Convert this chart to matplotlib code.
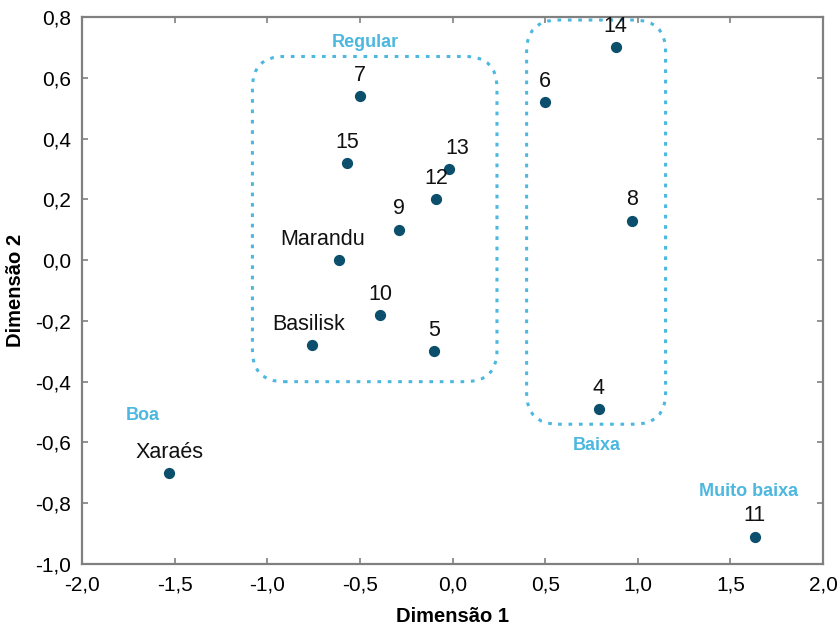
import matplotlib
matplotlib.use('Agg')
import matplotlib.pyplot as plt
from matplotlib.patches import FancyBboxPatch
from matplotlib.ticker import FuncFormatter, MultipleLocator

plt.rcParams['font.family'] = ['Liberation Sans', 'DejaVu Sans']

# Coordinates of each genotype on the two dimensions
names = ['7', '15', '13', '12', '9', 'Marandu', '10', 'Basilisk', '5',
         '6', '14', '8', '4', 'Xaraés', '11']
dim1 = [-0.50, -0.57, -0.02, -0.09, -0.29, -0.61, -0.39, -0.76, -0.10,
        0.50, 0.88, 0.97, 0.79, -1.53, 1.63]
dim2 = [0.54, 0.32, 0.30, 0.20, 0.10, 0.00, -0.18, -0.28, -0.30,
        0.52, 0.70, 0.13, -0.49, -0.70, -0.91]

# Groups: name, box (x0, y0, x1, y1) or None, label position
groups = ['Regular', 'Baixa', 'Boa', 'Muito baixa']
group_boxes = [(-1.08, -0.40, 0.24, 0.67), (0.40, -0.54, 1.15, 0.79), None, None]
group_label_xy = [(-0.47, 0.715), (0.78, -0.61), (-1.67, -0.51), (1.60, -0.76)]

point_color = '#0b4f6c'
group_color = '#4cb8df'

# label offsets (points) relative to each marker
offsets = {'Marandu': (-12, 11), '13': (6, 11), 'Basilisk': (-2, 11)}

fig = plt.figure(figsize=(8.39, 6.34), dpi=100)
ax = fig.add_axes([0.0977, 0.1104, 0.8833, 0.8628])

ax.scatter(dim1, dim2, s=50, color=point_color, zorder=3)
for n, x, y in zip(names, dim1, dim2):
    ax.annotate(n, (x, y), xytext=offsets.get(n, (0, 11)), textcoords='offset points',
                ha='center', va='baseline', fontsize=15.5, color='#111111')

# dotted rounded boxes; mutation_aspect keeps the corners round on screen
asp = (1.8 / 547) / (4.0 / 741)
for box in group_boxes:
    if box is None:
        continue
    x0, y0, x1, y1 = box
    p = FancyBboxPatch((x0, y0), x1 - x0, y1 - y0,
                       boxstyle='round,pad=0,rounding_size=0.17',
                       mutation_aspect=asp, fill=False, edgecolor=group_color,
                       linewidth=2.2, linestyle=(0, (1.2, 2.2)), clip_on=False, zorder=2)
    ax.add_patch(p)

for g, (x, y) in zip(groups, group_label_xy):
    ax.text(x, y, g, ha='center', va='center', fontsize=13, fontweight='bold', color=group_color)

ax.set_xlim(-2.0, 2.0)
ax.set_ylim(-1.0, 0.8)
ax.xaxis.set_major_locator(MultipleLocator(0.5))
ax.yaxis.set_major_locator(MultipleLocator(0.2))
fmt = FuncFormatter(lambda v, pos: ('%.1f' % v).replace('.', ',').replace('-0,0', '0,0'))
ax.xaxis.set_major_formatter(fmt)
ax.yaxis.set_major_formatter(fmt)
ax.tick_params(direction='in', length=4, width=1.2, color='#808080',
               top=True, right=True, labelsize=15, pad=8)
for s in ax.spines.values():
    s.set_color('#808080')
    s.set_linewidth(1.6)

ax.set_xlabel('Dimensão 1', fontsize=14.5, fontweight='bold', labelpad=9)
ax.set_ylabel('Dimensão 2', fontsize=14.5, fontweight='bold', labelpad=7)

plt.savefig('out.png', dpi=100)
plt.close()
